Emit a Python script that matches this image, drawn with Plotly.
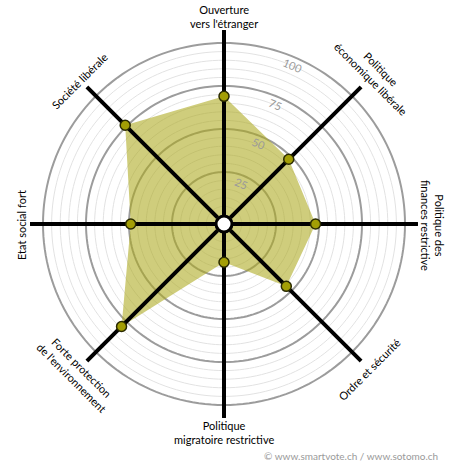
import math
import plotly.graph_objects as go

# ---- data ----
axes_labels = [
    "Ouverture<br>vers l'étranger",
    "Politique<br>économique libérale",
    "Politique des<br>finances restrictive",
    "Ordre et sécurité",
    "Politique<br>migratoire restrictive",
    "Forte protection<br>de l'environnement",
    "Etat social fort",
    "Société libérale",
]
axes_angles = [0, 45, 90, 135, 180, 225, 270, 315]
values = [69, 48, 48, 46, 17, 79, 49, 76]
major_ticks = [25, 50, 75, 100]
minor_ticks = [v for v in range(5, 101, 5) if v % 25 != 0]

# ---- geometry (pixels) ----
W, H = 450, 470
CX, CY = 224, 224
R_PX = 194          # radius of polar area
HOLE_PX = 9
SCALE = 1.72        # px per unit
RMAX = (R_PX - HOLE_PX) / SCALE

FONT = "Lato, 'Open Sans', sans-serif"

fig = go.Figure()

def ring_trace(levels, color, width):
    th, rr = [], []
    for v in levels:
        th += [t for t in range(0, 361, 2)] + [None]
        rr += [v] * 181 + [None]
    return go.Scatterpolar(r=rr, theta=th, mode="lines",
                           line=dict(color=color, width=width),
                           hoverinfo="skip", showlegend=False)

fig.add_trace(ring_trace(minor_ticks, "#e2e2e2", 1))
fig.add_trace(ring_trace(major_ticks, "#9c9c9c", 2))

# filled profile
fig.add_trace(go.Scatterpolar(
    r=values + [values[0]], theta=axes_angles + [axes_angles[0]],
    mode="lines", fill="toself", fillcolor="rgba(172,168,30,0.58)",
    line=dict(width=0, color="rgba(0,0,0,0)"),
    hoverinfo="skip", showlegend=False))

# spokes
sr, st = [], []
for a in axes_angles:
    sr += [0, RMAX, None]
    st += [a, a, None]
fig.add_trace(go.Scatterpolar(r=sr, theta=st, mode="lines",
                              line=dict(color="black", width=4),
                              hoverinfo="skip", showlegend=False))

# points
fig.add_trace(go.Scatterpolar(
    r=values, theta=axes_angles, mode="markers",
    marker=dict(size=10, color="#a39e05", line=dict(color="#2a2a00", width=1.5)),
    showlegend=False))

fig.update_layout(
    width=W, height=H, autosize=False,
    margin=dict(l=0, r=0, t=0, b=0),
    paper_bgcolor="white",
    polar=dict(
        domain=dict(x=[(CX - R_PX) / W, (CX + R_PX) / W],
                    y=[1 - (CY + R_PX) / H, 1 - (CY - R_PX) / H]),
        hole=HOLE_PX / R_PX,
        bgcolor="white",
        radialaxis=dict(range=[0, RMAX], visible=False),
        angularaxis=dict(direction="clockwise", rotation=90, visible=False),
    ),
)

def px2paper(x, y):
    return x / W, 1 - y / H

# center white circle
fig.add_shape(type="circle", xref="paper", yref="paper",
              x0=(CX - 8) / W, x1=(CX + 8) / W,
              y0=1 - (CY + 8) / H, y1=1 - (CY - 8) / H,
              fillcolor="white", line=dict(color="black", width=3))

# axis labels
label_pos = [(224, 16, 0), (376, 73, 45), (433, 225, 90), (369, 369, -45),
             (224, 432, 0), (77, 372, 45), (21, 225, -90), (80, 81, -45)]
for txt, (x, y, ang) in zip(axes_labels, label_pos):
    px, py = px2paper(x, y)
    fig.add_annotation(x=px, y=py, xref="paper", yref="paper", text=txt,
                       showarrow=False, textangle=ang, align="center",
                       xanchor="center", yanchor="middle",
                       font=dict(family=FONT, size=11, color="black"))

# radial tick labels
tick_ang = math.radians(23.5)
for v in major_ticks:
    r = HOLE_PX + (v - 4.5) * SCALE
    x = CX + r * math.sin(tick_ang)
    y = CY - r * math.cos(tick_ang)
    px, py = px2paper(x, y)
    fig.add_annotation(x=px, y=py, xref="paper", yref="paper", text=str(v),
                       showarrow=False, textangle=23, xanchor="center",
                       yanchor="middle",
                       font=dict(family=FONT, size=11, color="#9a9a9a"))

# copyright
cx, cy = px2paper(440, 456)
fig.add_annotation(x=cx, y=cy, xref="paper", yref="paper",
                   text="© www.smartvote.ch / www.sotomo.ch",
                   showarrow=False, xanchor="right", yanchor="middle",
                   font=dict(family=FONT, size=10, color="#9a9a9a"))

fig.write_html("out.html",
               config={"displayModeBar": False},
               post_script="document.body.style.margin='0';"
                           "document.body.style.overflow='hidden';")
